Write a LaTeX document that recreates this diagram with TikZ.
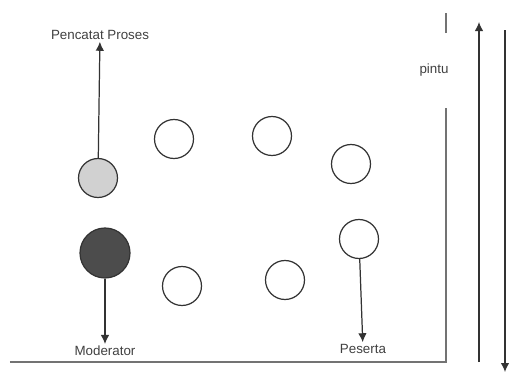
\documentclass[tikz,border=0pt]{standalone}
\usepackage{fontspec}
\setmainfont{Liberation Sans}
\usetikzlibrary{arrows.meta, positioning}

\begin{document}
\begin{tikzpicture}[
  seat/.style={draw=black!80, circle, line width=0.7pt, minimum size=0.78cm,
               inner sep=0pt, fill=white},
  arr/.style={-{Latex[length=1.8mm, width=1.7mm]}, line width=0.7pt, black!80},
  wall/.style={line width=1.1pt, black!55},
  lbl/.style={font=\fontsize{7.6}{8}\selectfont, text=black!75, inner sep=1pt}
]
\useasboundingbox (0,0) rectangle (10.24,7.52);
% ruangan
\coordinate (wa) at (0.2,0.28);
\coordinate (wb) at (8.92,0.28);
\coordinate (wc) at (8.92,5.36);
\coordinate (wd) at (8.92,6.86);
\coordinate (we) at (8.92,7.26);
\draw[wall] (wa) -- (wb) -- (wc);
\draw[wall] (wd) -- (we);
\node[lbl] (pintu) at (8.68,6.12) {pintu};
% alur masuk / keluar
\coordinate (ina) at (9.58,0.28);
\coordinate (inb) at (9.58,7.08);
\coordinate (outa) at (10.1,6.92);
\coordinate (outb) at (10.1,0.08);
\draw[arr] (ina) -- (inb);
\draw[arr] (outa) -- (outb);
% kursi
\node[seat, fill=black!18] (pencatat) at (1.96,3.96) {};
\node[seat, fill=black!70, minimum size=1.0cm] (moderator) at (2.1,2.46) {};
\node[seat] (s1) at (3.48,4.74) {};
\node[seat] (s2) at (5.44,4.80) {};
\node[seat] (s3) at (7.02,4.24) {};
\node[seat] (s4) at (7.18,2.74) {};
\node[seat] (s5) at (5.70,1.92) {};
\node[seat] (s6) at (3.64,1.80) {};
% keterangan
\node[lbl] (lpencatat) at (2.0,6.82) {Pencatat Proses};
\node[lbl] (lmoderator) at (2.1,0.50) {Moderator};
\node[lbl] (lpeserta) at (7.26,0.54) {Peserta};
\draw[arr] (pencatat) -- (lpencatat);
\draw[arr] (moderator) -- (lmoderator);
\draw[arr] (s4) -- (lpeserta);
\end{tikzpicture}
\end{document}
